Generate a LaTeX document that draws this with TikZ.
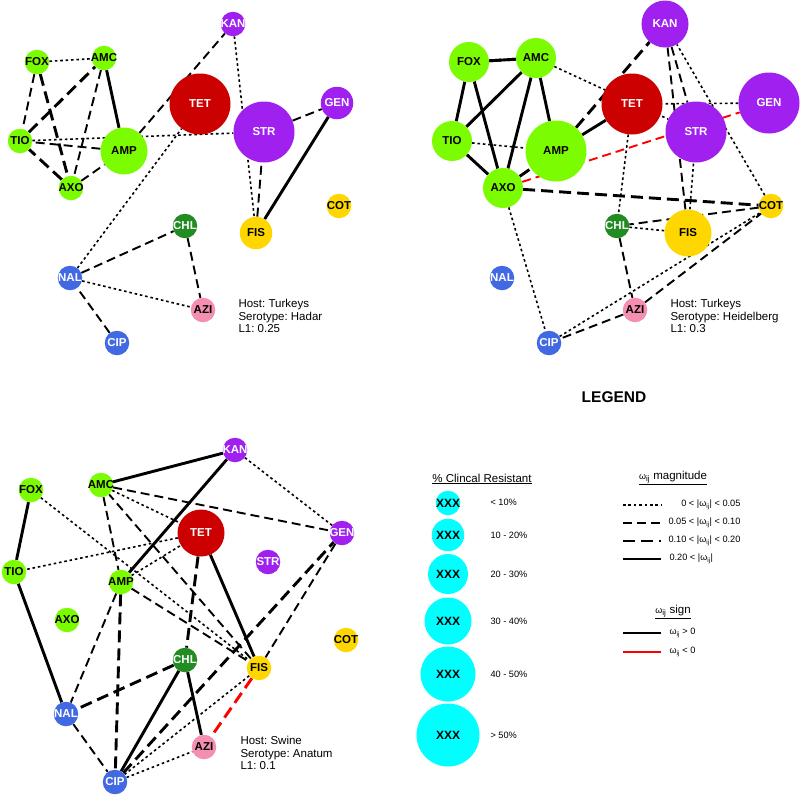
\documentclass[tikz,border=0pt]{standalone}
\usepackage{fontspec}
\setmainfont{Liberation Sans}
\usepackage{tikz}
\usetikzlibrary{positioning}
\usepackage{xcolor}

\definecolor{betalac}{HTML}{7CFC00}
\definecolor{tetra}{HTML}{CC0000}
\definecolor{amino}{HTML}{A020F0}
\definecolor{folate}{HTML}{FFD700}
\definecolor{phenic}{HTML}{228B22}
\definecolor{quino}{HTML}{4169E1}
\definecolor{macro}{HTML}{F48FB1}
\definecolor{legcyan}{HTML}{00FFFF}

\pgfdeclarelayer{edges}
\pgfsetlayers{edges,main}

\frenchspacing
\newcommand{\drg}[1]{\makebox[0pt]{#1}}
\newcommand{\wij}{{\small ω}\textsubscript{ij}}

\tikzset{
  drug/.style={circle, inner sep=0pt, font=\fontsize{11.5}{11.5}\selectfont\bfseries},
  pA/.style={minimum size=24.5pt},
  pB/.style={minimum size=32.5pt},
  pC/.style={minimum size=40pt},
  pD/.style={minimum size=47pt},
  pE/.style={minimum size=55pt},
  pF/.style={minimum size=61pt},
  gBL/.style={fill=betalac, text=black},
  gTE/.style={fill=tetra, text=white},
  gAG/.style={fill=amino, text=white},
  gFO/.style={fill=folate, text=black},
  gPH/.style={fill=phenic, text=white},
  gQU/.style={fill=quino, text=white},
  gMA/.style={fill=macro, text=black},
  w1/.style={line width=1.6pt, dash pattern=on 2.6pt off 2.8pt},
  w2/.style={line width=1.9pt, dash pattern=on 9pt off 5pt},
  w3/.style={line width=2.9pt, dash pattern=on 12pt off 6pt},
  w4/.style={line width=2.9pt},
  neg/.style={draw=red},
  info/.style={anchor=west, align=left, font=\fontsize{11.5}{12.7}\selectfont},
  legtxt/.style={font=\fontsize{9.2}{10}\selectfont},
}

\begin{document}
\begin{tikzpicture}[x=1pt, y=-1pt]
     \useasboundingbox (0,0) rectangle (800,796);
     % Turkeys / Hadar
     \begin{scope}
      \node[drug,gAG,pA] (KAN) at (233,24) {\drg{KAN}};
      \node[drug,gBL,pA] (FOX) at (37,62) {\drg{FOX}};
      \node[drug,gBL,pA] (AMC) at (104,58) {\drg{AMC}};
      \node[drug,gTE,pF] (TET) at (200,104) {\drg{TET}};
      \node[drug,gAG,pB] (GEN) at (337,103) {\drg{GEN}};
      \node[drug,gAG,pF] (STR) at (264,132) {\drg{STR}};
      \node[drug,gBL,pA] (TIO) at (20,141) {\drg{TIO}};
      \node[drug,gBL,pD] (AMP) at (124,151) {\drg{AMP}};
      \node[drug,gBL,pA] (AXO) at (71,188) {\drg{AXO}};
      \node[drug,gFO,pA] (COT) at (339,206) {\drg{COT}};
      \node[drug,gPH,pA] (CHL) at (185,226) {\drg{CHL}};
      \node[drug,gFO,pB] (FIS) at (256,233) {\drg{FIS}};
      \node[drug,gQU,pA] (NAL) at (70,278) {\drg{NAL}};
      \node[drug,gMA,pA] (AZI) at (203,310) {\drg{AZI}};
      \node[drug,gQU,pA] (CIP) at (117,343) {\drg{CIP}};
      \node[info] (host) at (235,316) {Host: Turkeys\\Serotype: Hadar\\L1: 0.25};
      \begin{pgfonlayer}{edges}
       \draw[w1] (FOX)--(AMC);
       \draw[w1] (TIO)--(STR);
       \draw[w1] (KAN)--(FIS);
       \draw[w1] (NAL)--(TET);
       \draw[w1] (NAL)--(AZI);
       \draw[w2] (FOX)--(TIO);
       \draw[w2] (AMC)--(AXO)--(AMP)--(TIO);
       \draw[w2] (AMP)--(KAN);
       \draw[w2] (FIS)--(STR)--(GEN);
       \draw[w2] (CIP)--(NAL)--(CHL)--(AZI);
       \draw[w3] (FOX)--(AXO)--(TIO)--(AMC);
       \draw[w4] (AMC)--(AMP);
       \draw[w4] (GEN)--(FIS);
      \end{pgfonlayer}
     \end{scope}
     % Turkeys / Heidelberg
     \begin{scope}[xshift=432pt]
      \node[drug,gAG,pD] (KAN) at (233,24) {\drg{KAN}};
      \node[drug,gBL,pC] (FOX) at (37,62) {\drg{FOX}};
      \node[drug,gBL,pC] (AMC) at (104,58) {\drg{AMC}};
      \node[drug,gTE,pF] (TET) at (200,104) {\drg{TET}};
      \node[drug,gAG,pF] (GEN) at (337,103) {\drg{GEN}};
      \node[drug,gAG,pF] (STR) at (264,132) {\drg{STR}};
      \node[drug,gBL,pC] (TIO) at (20,141) {\drg{TIO}};
      \node[drug,gBL,pF] (AMP) at (124,151) {\drg{AMP}};
      \node[drug,gBL,pC] (AXO) at (71,188) {\drg{AXO}};
      \node[drug,gFO,pA] (COT) at (339,206) {\drg{COT}};
      \node[drug,gPH,pA] (CHL) at (185,226) {\drg{CHL}};
      \node[drug,gFO,pD] (FIS) at (256,233) {\drg{FIS}};
      \node[drug,gQU,pA] (NAL) at (70,278) {\drg{NAL}};
      \node[drug,gMA,pA] (AZI) at (203,310) {\drg{AZI}};
      \node[drug,gQU,pA] (CIP) at (117,343) {\drg{CIP}};
      \node[info] (host) at (235,316) {Host: Turkeys\\Serotype: Heidelberg\\L1: 0.3};
      \begin{pgfonlayer}{edges}
       \draw[w1] (AMC)--(STR);
       \draw[w1] (TIO)--(AMP);
       \draw[w1] (AXO)--(CIP)--(COT)--(KAN);
       \draw[w1] (GEN)--(TET)--(CHL)--(FIS)--(STR);
       \draw[w2] (KAN)--(STR);
       \draw[w2] (KAN)--(FIS);
       \draw[w2] (COT)--(CHL)--(AZI)--(CIP);
       \draw[w2] (AZI)--(COT);
       \draw[w2,neg] (AXO)--(GEN);
       \draw[w3] (FOX)--(AMC);
       \draw[w3] (AXO)--(AMP)--(KAN);
       \draw[w3] (AXO)--(COT);
       \draw[w4] (AMC)--(FOX)--(TIO)--(AXO)--(FOX);
       \draw[w4] (TIO)--(AMC)--(AXO);
       \draw[w4] (AMC)--(AMP)--(TET);
      \end{pgfonlayer}
     \end{scope}
     % Swine / Anatum
     \begin{scope}
      \node[drug,gAG,pA] (KAN) at (235,450) {\drg{KAN}};
      \node[drug,gBL,pA] (FOX) at (31,490) {\drg{FOX}};
      \node[drug,gBL,pA] (AMC) at (101,485) {\drg{AMC}};
      \node[drug,gTE,pD] (TET) at (201,533) {\drg{TET}};
      \node[drug,gAG,pA] (GEN) at (342,533) {\drg{GEN}};
      \node[drug,gAG,pA] (STR) at (268,562) {\drg{STR}};
      \node[drug,gBL,pA] (TIO) at (14,572) {\drg{TIO}};
      \node[drug,gBL,pA] (AMP) at (121,582) {\drg{AMP}};
      \node[drug,gBL,pA] (AXO) at (67,620) {\drg{AXO}};
      \node[drug,gFO,pA] (COT) at (346,640) {\drg{COT}};
      \node[drug,gPH,pA] (CHL) at (185,660) {\drg{CHL}};
      \node[drug,gFO,pA] (FIS) at (259,668) {\drg{FIS}};
      \node[drug,gQU,pA] (NAL) at (66,714) {\drg{NAL}};
      \node[drug,gMA,pA] (AZI) at (204,747) {\drg{AZI}};
      \node[drug,gQU,pA] (CIP) at (115,782) {\drg{CIP}};
      \node[info] (host) at (237,753) {Host: Swine\\Serotype: Anatum\\L1: 0.1};
      \begin{pgfonlayer}{edges}
       \draw[w1] (KAN)--(GEN);
       \draw[w1] (AMC)--(TET)--(TIO);
       \draw[w1] (AMP)--(TET);
       \draw[w1] (FOX)--(FIS)--(CIP)--(AZI);
       \draw[w2] (AMC)--(GEN)--(FIS)--(AMC)--(AMP)--(FIS);
       \draw[w2] (AMP)--(NAL)--(CIP);
       \draw[w3,neg] (FIS)--(AZI);
       \draw[w3] (AMP)--(CIP)--(GEN);
       \draw[w3] (TET)--(CHL)--(NAL);
       \draw[w4] (FOX)--(TIO)--(NAL);
       \draw[w4] (AMC)--(KAN)--(AMP);
       \draw[w4] (TET)--(FIS);
       \draw[w4] (CIP)--(CHL)--(AZI);
      \end{pgfonlayer}
     \end{scope}
     % legend
     \node[font=\fontsize{15.5}{15.5}\selectfont\bfseries] (legend) at (614,397) {LEGEND};
     \node[font=\fontsize{11.5}{11.5}\selectfont] (pcthead) at (482,479) {\underline{\% Clincal Resistant}};
     \node[drug,pA,fill=legcyan,font=\fontsize{12}{12}\selectfont\bfseries] (c1) at (448,503) {\drg{XXX}};
     \node[drug,pB,fill=legcyan,font=\fontsize{12}{12}\selectfont\bfseries] (c2) at (448,535) {\drg{XXX}};
     \node[drug,pC,fill=legcyan,font=\fontsize{12}{12}\selectfont\bfseries] (c3) at (448,574) {\drg{XXX}};
     \node[drug,pD,fill=legcyan,font=\fontsize{12}{12}\selectfont\bfseries] (c4) at (448,621) {\drg{XXX}};
     \node[drug,pE,fill=legcyan,font=\fontsize{12}{12}\selectfont\bfseries] (c5) at (448,674) {\drg{XXX}};
     \node[drug,minimum size=63pt,fill=legcyan,font=\fontsize{12}{12}\selectfont\bfseries] (c6) at (448,735) {\drg{XXX}};
     \node[legtxt,anchor=west] (t1) at (487,502) {< 10\%};
     \node[legtxt,anchor=west] (t2) at (487,535) {10 - 20\%};
     \node[legtxt,anchor=west] (t3) at (487,574) {20 - 30\%};
     \node[legtxt,anchor=west] (t4) at (487,621) {30 - 40\%};
     \node[legtxt,anchor=west] (t5) at (487,674) {40 - 50\%};
     \node[legtxt,anchor=west] (t6) at (487,735) {> 50\%};
     \node[font=\fontsize{11.5}{11.5}\selectfont] (maghead) at (673,478) {\underline{\wij{} magnitude}};
     \coordinate (ma1) at (623,505); \coordinate (mb1) at (661,505);
     \coordinate (ma2) at (623,523); \coordinate (mb2) at (661,523);
     \coordinate (ma3) at (623,541); \coordinate (mb3) at (661,541);
     \coordinate (ma4) at (623,559); \coordinate (mb4) at (661,559);
     \draw[w1] (ma1)--(mb1);
     \draw[w2] (ma2)--(mb2);
     \draw[w3] (ma3)--(mb3);
     \draw[w4] (ma4)--(mb4);
     \node[legtxt,anchor=east] (m1) at (744,505) {0 < |\wij| < 0.05};
     \node[legtxt,anchor=east] (m2) at (744,523) {0.05 < |\wij| < 0.10};
     \node[legtxt,anchor=east] (m3) at (744,541) {0.10 < |\wij| < 0.20};
     \node[legtxt,anchor=west] (m4) at (666,559) {0.20 < |\wij|};
     \node[font=\fontsize{11.5}{11.5}\selectfont] (sgnhead) at (673,612) {\underline{\wij{} sign}};
     \coordinate (sa1) at (623,633); \coordinate (sb1) at (661,633);
     \coordinate (sa2) at (623,652); \coordinate (sb2) at (661,652);
     \draw[w4] (sa1)--(sb1);
     \draw[w4,neg] (sa2)--(sb2);
     \node[legtxt,anchor=west] (s1) at (666,633) {\wij{} > 0};
     \node[legtxt,anchor=west] (s2) at (666,652) {\wij{} < 0};
\end{tikzpicture}
\end{document}
